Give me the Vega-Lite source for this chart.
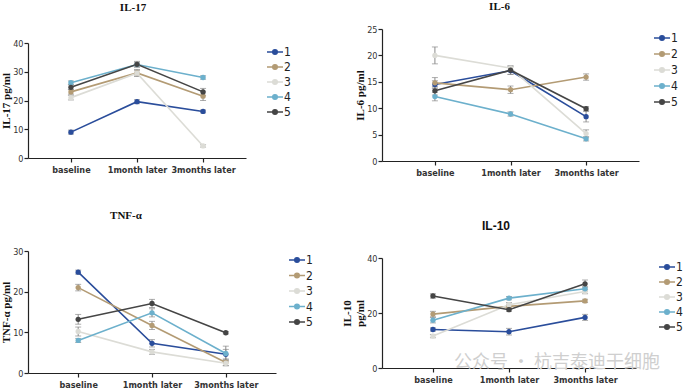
{
  "$schema": "https://vega.github.io/schema/vega-lite/v6.json",
  "padding": {"left": 0, "top": 0, "right": 0, "bottom": 0},
  "background": "white",
  "config": {
    "view": {"stroke": null},
    "axis": {"grid": false, "domainColor": "#222", "domainWidth": 1.2, "tickColor": "#222", "tickSize": 4, "tickWidth": 1.2,
      "labelFont": "DejaVu Sans Condensed, Liberation Sans Narrow, Liberation Sans, sans-serif", "labelFontSize": 9, "labelColor": "#333", "labelPadding": 1,
      "titleFont": "Liberation Serif, DejaVu Serif, serif", "titleFontSize": 11, "titleFontWeight": "bold", "titleColor": "#111", "titlePadding": 1},
    "axisX": {"labelAngle": 0, "labelFontWeight": "bold", "title": null, "labelPadding": 3},
    "legend": {"title": null, "orient": "right", "symbolType": "M-1,0L1,0M-0.28,0A0.28,0.28,0,1,0,0.28,0A0.28,0.28,0,1,0,-0.28,0",
      "symbolSize": 256, "symbolStrokeWidth": 1.6, "labelFont": "DejaVu Sans Condensed, Liberation Sans Narrow, Liberation Sans, sans-serif", "labelFontSize": 12,
      "labelColor": "#222", "labelOffset": 0, "rowPadding": 0, "padding": 0},
    "text": {"font": "Liberation Serif, DejaVu Serif, serif", "fontSize": 11, "fontWeight": "bold", "color": "#111"}
  },
  "datasets": {
    "il17": [
      {"g": "1", "t": "baseline", "v": 9.0, "e": 0.7}, {"g": "1", "t": "1month later", "v": 19.6, "e": 0.7}, {"g": "1", "t": "3months later", "v": 16.2, "e": 0.5},
      {"g": "2", "t": "baseline", "v": 23.0, "e": 0.8}, {"g": "2", "t": "1month later", "v": 29.6, "e": 1.2}, {"g": "2", "t": "3months later", "v": 21.5, "e": 1.5},
      {"g": "3", "t": "baseline", "v": 21.0, "e": 0.8}, {"g": "3", "t": "1month later", "v": 29.5, "e": 1.0}, {"g": "3", "t": "3months later", "v": 4.2, "e": 0.4},
      {"g": "4", "t": "baseline", "v": 26.2, "e": 0.6}, {"g": "4", "t": "1month later", "v": 32.5, "e": 0.8}, {"g": "4", "t": "3months later", "v": 28.0, "e": 0.6},
      {"g": "5", "t": "baseline", "v": 24.6, "e": 0.8}, {"g": "5", "t": "1month later", "v": 32.6, "e": 1.0}, {"g": "5", "t": "3months later", "v": 23.0, "e": 1.2}
    ],
    "il6": [
      {"g": "1", "t": "baseline", "v": 14.5, "e": 0.7}, {"g": "1", "t": "1month later", "v": 17.1, "e": 0.7}, {"g": "1", "t": "3months later", "v": 8.4, "e": 1.0},
      {"g": "2", "t": "baseline", "v": 14.8, "e": 1.0}, {"g": "2", "t": "1month later", "v": 13.5, "e": 0.7}, {"g": "2", "t": "3months later", "v": 15.9, "e": 0.6},
      {"g": "3", "t": "baseline", "v": 20.0, "e": 1.6}, {"g": "3", "t": "1month later", "v": 17.6, "e": 0.4}, {"g": "3", "t": "3months later", "v": 5.2, "e": 0.7},
      {"g": "4", "t": "baseline", "v": 12.2, "e": 0.8}, {"g": "4", "t": "1month later", "v": 8.9, "e": 0.4}, {"g": "4", "t": "3months later", "v": 4.2, "e": 0.4},
      {"g": "5", "t": "baseline", "v": 13.3, "e": 0.8}, {"g": "5", "t": "1month later", "v": 17.2, "e": 0.8}, {"g": "5", "t": "3months later", "v": 9.9, "e": 0.4}
    ],
    "tnf": [
      {"g": "1", "t": "baseline", "v": 24.8, "e": 0.5}, {"g": "1", "t": "1month later", "v": 7.3, "e": 0.9}, {"g": "1", "t": "3months later", "v": 4.6, "e": 1.2},
      {"g": "2", "t": "baseline", "v": 21.0, "e": 0.8}, {"g": "2", "t": "1month later", "v": 11.7, "e": 1.0}, {"g": "2", "t": "3months later", "v": 2.6, "e": 0.8},
      {"g": "3", "t": "baseline", "v": 10.2, "e": 1.1}, {"g": "3", "t": "1month later", "v": 5.2, "e": 0.6}, {"g": "3", "t": "3months later", "v": 2.4, "e": 0.6},
      {"g": "4", "t": "baseline", "v": 8.0, "e": 0.5}, {"g": "4", "t": "1month later", "v": 14.8, "e": 1.0}, {"g": "4", "t": "3months later", "v": 4.8, "e": 1.8},
      {"g": "5", "t": "baseline", "v": 13.2, "e": 1.2}, {"g": "5", "t": "1month later", "v": 17.1, "e": 1.0}, {"g": "5", "t": "3months later", "v": 9.9, "e": 0.3}
    ],
    "il10": [
      {"g": "1", "t": "baseline", "v": 14.0, "e": 0.6}, {"g": "1", "t": "1month later", "v": 13.2, "e": 1.2}, {"g": "1", "t": "3months later", "v": 18.4, "e": 1.1},
      {"g": "2", "t": "baseline", "v": 19.6, "e": 1.0}, {"g": "2", "t": "1month later", "v": 22.4, "e": 0.8}, {"g": "2", "t": "3months later", "v": 24.4, "e": 0.6},
      {"g": "3", "t": "baseline", "v": 11.6, "e": 0.6}, {"g": "3", "t": "1month later", "v": 23.0, "e": 0.8}, {"g": "3", "t": "3months later", "v": 27.8, "e": 0.8},
      {"g": "4", "t": "baseline", "v": 17.4, "e": 1.0}, {"g": "4", "t": "1month later", "v": 25.4, "e": 0.6}, {"g": "4", "t": "3months later", "v": 28.8, "e": 0.8},
      {"g": "5", "t": "baseline", "v": 26.2, "e": 0.8}, {"g": "5", "t": "1month later", "v": 21.2, "e": 0.6}, {"g": "5", "t": "3months later", "v": 30.6, "e": 1.4}
    ],
    "wm": [{"txt": "公众号 · 杭吉泰迪干细胞"}]
  },
  "resolve": {"scale": {"color": "independent"}, "legend": {"color": "independent"}},
  "align": "none",
  "spacing": 28,
  "hconcat": [
    {
      "align": "each",
      "spacing": 0,
      "resolve": {"scale": {"color": "independent"}, "legend": {"color": "independent"}},
      "vconcat": [
        {"width": 218, "height": 39, "data": {"values": [{"txt": "IL-17"}]},
         "mark": {"type": "text", "dx": -4, "dy": -12}, "encoding": {"text": {"field": "txt"}}},
        {
          "width": 218, "height": 115,
          "data": {"name": "il17"},
          "encoding": {"x": {"field": "t", "type": "nominal", "sort": ["baseline", "1month later", "3months later"], "scale": {"type": "point", "padding": 0.65}}},
          "layer": [
            {"mark": {"type": "errorbar", "ticks": {"size": 6}, "color": "#8a8a8a", "thickness": 1},
             "encoding": {"y": {"field": "v", "type": "quantitative", "scale": {"domain": [0, 40]}, "axis": {"values": [0, 10, 20, 30, 40]}, "title": "IL-17 pg/ml"}, "yError": {"field": "e"}, "detail": {"field": "g"}}},
            {"mark": {"type": "line", "strokeWidth": 1.6, "point": {"filled": true, "size": 28}},
             "encoding": {"y": {"field": "v", "type": "quantitative", "scale": {"domain": [0, 40]}, "axis": {"values": [0, 10, 20, 30, 40]}, "title": "IL-17 pg/ml"},
               "color": {"field": "g", "type": "nominal", "scale": {"domain": ["1", "2", "3", "4", "5"], "range": ["#2a4d9b", "#b39b74", "#dcdcd6", "#6cb0cc", "#454545"]}, "legend": {"offset": 20}}}}
          ]
        },
        {"width": 248, "height": 73, "data": {"values": [{"txt": "TNF-α"}]},
         "mark": {"type": "text", "dx": -26, "dy": 5}, "encoding": {"text": {"field": "txt"}}},
        {
          "width": 248, "height": 122,
          "data": {"name": "tnf"},
          "encoding": {"x": {"field": "t", "type": "nominal", "sort": ["baseline", "1month later", "3months later"], "scale": {"type": "point", "padding": 0.68}}},
          "layer": [
            {"mark": {"type": "errorbar", "ticks": {"size": 6}, "color": "#8a8a8a", "thickness": 1},
             "encoding": {"y": {"field": "v", "type": "quantitative", "scale": {"domain": [0, 30]}, "axis": {"values": [0, 10, 20, 30]}, "title": "TNF-α pg/ml"}, "yError": {"field": "e"}, "detail": {"field": "g"}}},
            {"mark": {"type": "line", "strokeWidth": 1.6, "point": {"filled": true, "size": 28}},
             "encoding": {"y": {"field": "v", "type": "quantitative", "scale": {"domain": [0, 30]}, "axis": {"values": [0, 10, 20, 30]}, "title": "TNF-α pg/ml"},
               "color": {"field": "g", "type": "nominal", "scale": {"domain": ["1", "2", "3", "4", "5"], "range": ["#2a4d9b", "#b39b74", "#dcdcd6", "#6cb0cc", "#454545"]}, "legend": {"offset": 12, "rowPadding": 0.5}}}}
          ]
        }
      ]
    },
    {
      "align": "each",
      "spacing": 0,
      "resolve": {"scale": {"color": "independent"}, "legend": {"color": "independent"}},
      "vconcat": [
        {"width": 257, "height": 25, "data": {"values": [{"txt": "IL-6"}]},
         "mark": {"type": "text", "dx": -11, "dy": -6}, "encoding": {"text": {"field": "txt"}}},
        {
          "width": 257, "height": 132,
          "data": {"name": "il6"},
          "encoding": {"x": {"field": "t", "type": "nominal", "sort": ["baseline", "1month later", "3months later"], "scale": {"type": "point", "padding": 0.7}}},
          "layer": [
            {"mark": {"type": "errorbar", "ticks": {"size": 6}, "color": "#8a8a8a", "thickness": 1},
             "encoding": {"y": {"field": "v", "type": "quantitative", "scale": {"domain": [0, 25]}, "axis": {"values": [0, 5, 10, 15, 20, 25]}, "title": "IL-6 pg/ml"}, "yError": {"field": "e"}, "detail": {"field": "g"}}},
            {"mark": {"type": "line", "strokeWidth": 1.6, "point": {"filled": true, "size": 28}},
             "encoding": {"y": {"field": "v", "type": "quantitative", "scale": {"domain": [0, 25]}, "axis": {"values": [0, 5, 10, 15, 20, 25]}, "title": "IL-6 pg/ml"},
               "color": {"field": "g", "type": "nominal", "scale": {"domain": ["1", "2", "3", "4", "5"], "range": ["#2a4d9b", "#b39b74", "#dcdcd6", "#6cb0cc", "#454545"]}, "legend": {"offset": 14, "rowPadding": 1}}}}
          ]
        },
        {"width": 254, "height": 77, "data": {"values": [{"txt": "IL-10"}]},
         "mark": {"type": "text", "dx": -13, "dy": 10, "font": "Liberation Sans, Arial, sans-serif", "fontSize": 12}, "encoding": {"text": {"field": "txt"}}},
        {
          "width": 254, "height": 110,
          "encoding": {"x": {"field": "t", "type": "nominal", "sort": ["baseline", "1month later", "3months later"], "scale": {"type": "point", "padding": 0.67}}},
          "layer": [
            {"data": {"name": "wm"}, "mark": {"type": "text", "font": "Noto Sans CJK SC", "fontSize": 18, "fontWeight": "normal", "color": "#cfcfcf", "dx": 48},
             "encoding": {"x": {"datum": "1month later"}, "y": {"datum": 1.7, "type": "quantitative"}, "text": {"field": "txt"}}},
            {"data": {"name": "il10"}, "mark": {"type": "errorbar", "ticks": {"size": 6}, "color": "#8a8a8a", "thickness": 1},
             "encoding": {"y": {"field": "v", "type": "quantitative", "scale": {"domain": [0, 40]}, "axis": {"values": [0, 10, 20, 30, 40]}, "title": ["IL-10", "pg/ml"]}, "yError": {"field": "e"}, "detail": {"field": "g"}}},
            {"data": {"name": "il10"}, "mark": {"type": "line", "strokeWidth": 1.6, "point": {"filled": true, "size": 28}},
             "encoding": {"y": {"field": "v", "type": "quantitative", "scale": {"domain": [0, 40]}, "axis": {"values": [0, 10, 20, 30, 40]}, "title": ["IL-10", "pg/ml"]},
               "color": {"field": "g", "type": "nominal", "scale": {"domain": ["1", "2", "3", "4", "5"], "range": ["#2a4d9b", "#b39b74", "#dcdcd6", "#6cb0cc", "#454545"]}, "legend": {"offset": 22}}}}
          ]
        }
      ]
    }
  ]
}
